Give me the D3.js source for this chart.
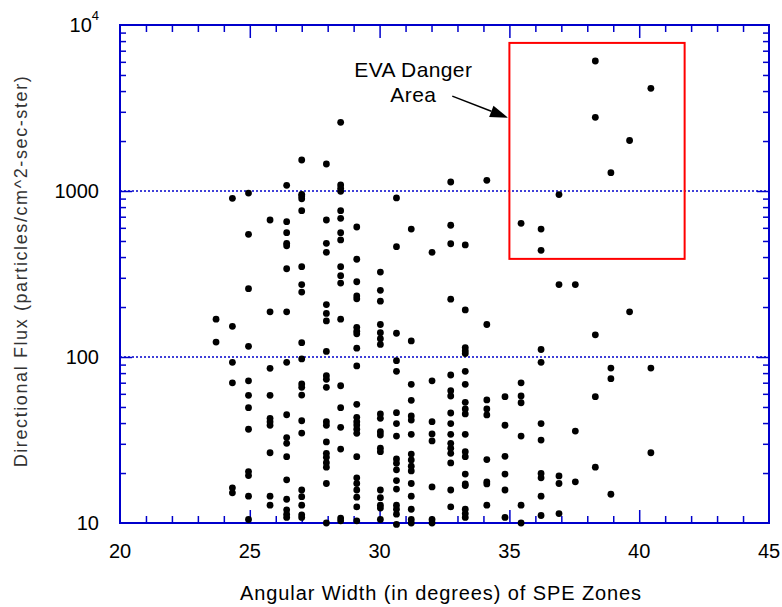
<!DOCTYPE html>
<html>
<head>
<meta charset="utf-8">
<script src="https://cdn.jsdelivr.net/npm/d3@7"></script>
<style>
  body { margin: 0; background: #fff; }
  svg { display: block; font-family: "Liberation Sans", Arial, sans-serif; }
</style>
</head>
<body>
<svg id="chart" width="782" height="607"></svg>
<script>
// angular width of each SPE zone column (degrees)
const zoneWidths = [23.70, 24.33, 24.95, 25.78, 26.42, 27.00, 27.95, 28.50, 29.12, 30.03, 30.65,
  31.22, 32.02, 32.74, 33.30, 34.13, 34.83, 35.45, 36.22, 36.91, 37.54, 38.31, 38.91, 39.63, 40.45];

// directional flux values for each column (particles/cm^2-sec-ster)
const fluxValues = [
  [169, 123],
  [904, 153, 92.9, 69.9, 16.3, 15.2],
  [972, 548, 258, 116, 71.9, 58.8, 49.5, 36.7, 20.4, 19.3, 14.5, 10.5],
  [669, 187, 85.5, 58.8, 42.7, 40.8, 38.8, 26.5, 14.5, 12.8],
  [1082, 653, 561, 484, 468, 340, 187, 92.9, 44.9, 32.7, 30.2, 25.1, 18.2, 13.9, 12.0, 11.3, 10.8],
  [1537, 955, 933, 898, 761, 350, 273, 246, 122, 97.3, 68.8, 65.7, 59.0, 41.3, 34.8, 15.8, 14.4, 12.8, 11.2, 10.8],
  [1454, 669, 484, 427, 207, 183, 165, 108, 77.2, 73.4, 65.7, 40.8, 38.8, 30.8, 26.3, 24.9, 23.1, 21.7, 17.3, 10.0],
  [2594, 1087, 1038, 996, 761, 685, 561, 507, 350, 309, 279, 169, 67.1, 49.5, 37.7, 27.9, 10.7, 10.3],
  [607, 388, 284, 233, 224, 151, 143, 138, 113, 88.3, 51.9, 43.3, 40.8, 38.9, 36.7, 34.7, 25.1, 18.7, 17.3, 15.8, 14.3, 12.5, 10.3],
  [325, 252, 217, 157, 140, 129, 119, 45.4, 42.7, 35.5, 33.9, 28.2, 26.9, 15.8, 14.2, 12.8, 12.3, 10.5],
  [908, 462, 139, 95.0, 82.0, 46.2, 39.7, 33.4, 24.3, 22.9, 20.9, 18.0, 16.0, 12.8, 12.1, 11.3, 9.8],
  [590, 125, 68.5, 54.8, 44.1, 41.7, 34.2, 26.0, 24.0, 22.0, 20.6, 17.3, 14.5, 12.1, 10.5, 10.0],
  [427, 71.9, 40.8, 34.4, 31.2, 16.5, 10.5, 10.0],
  [1133, 622, 481, 223, 77.9, 62.7, 58.2, 46.0, 39.7, 34.2, 30.2, 28.2, 26.3, 23.0, 15.8, 12.5],
  [473, 192, 114, 109, 105, 82.0, 68.5, 53.3, 48.6, 45.4, 34.2, 26.9, 25.1, 19.7, 17.2, 16.8, 12.1, 11.4, 10.8],
  [1160, 157, 55.1, 48.6, 44.8, 24.1, 17.7, 17.2, 12.8],
  [57.7, 38.8, 25.2, 19.7, 15.8, 10.8],
  [639, 69.9, 58.2, 53.0, 33.4, 12.8, 10.0],
  [590, 439, 111, 92.9, 39.7, 31.6, 19.9, 18.7, 14.5, 11.1],
  [952, 273, 19.2, 17.3, 11.4],
  [273, 35.8, 17.7],
  [6068, 2780, 136, 57.7, 21.7],
  [1289, 85.8, 74.0, 14.9],
  [2015, 187],
  [4157, 85.8, 26.5]
];

const xTicks = [20, 25, 30, 35, 40, 45];
const yTicks = [10, 100, 1000];
const gridLevels = [100, 1000];

// EVA danger area box (degrees / flux)
const dangerX = [35, 41.75];
const dangerY = [390, 7800];

const blue = "#0000cc";
const plotL = 120, plotR = 769, plotT = 25, plotB = 523;

const svg = d3.select("#chart");

const x = d3.scaleLinear().domain([20, 45]).range([plotL, plotR]);
const y = d3.scaleLog().domain([10, 10000]).range([plotB, plotT]);

const points = zoneWidths.flatMap((w, i) => fluxValues[i].map(f => ({ w, f })));

// dotted reference lines
svg.selectAll("line.grid")
  .data(gridLevels)
  .join("line")
  .attr("class", "grid")
  .attr("x1", plotL).attr("x2", plotR)
  .attr("y1", d => y(d)).attr("y2", d => y(d))
  .attr("stroke", blue)
  .attr("stroke-width", 1.5)
  .attr("stroke-dasharray", "2,2");

// ticks: minor and major, on all four sides pointing inward
const minorX = d3.range(21, 45).filter(v => v % 5 !== 0);
const majorX = d3.range(25, 45, 5);
const logTicks = y.ticks();
const minorY = logTicks.filter(v => !yTicks.includes(v) && v < 10000 && v > 10);

function tickAxis(axis, transform) {
  const g = svg.append("g").attr("transform", transform).call(axis);
  g.select(".domain").remove();
  g.selectAll("text").remove();
  g.selectAll("line").attr("stroke", blue).attr("stroke-width", 1.5);
  return g;
}

tickAxis(d3.axisBottom(x).tickValues(minorX).tickSize(-7), `translate(0,${plotB})`);
tickAxis(d3.axisBottom(x).tickValues(majorX).tickSize(-13), `translate(0,${plotB})`);
tickAxis(d3.axisTop(x).tickValues(minorX).tickSize(-7), `translate(0,${plotT})`);
tickAxis(d3.axisTop(x).tickValues(majorX).tickSize(-13), `translate(0,${plotT})`);
tickAxis(d3.axisLeft(y).tickValues(minorY).tickSize(-6), `translate(${plotL},0)`);
tickAxis(d3.axisLeft(y).tickValues([100, 1000]).tickSize(-12), `translate(${plotL},0)`);
tickAxis(d3.axisRight(y).tickValues(minorY).tickSize(-6), `translate(${plotR},0)`);
tickAxis(d3.axisRight(y).tickValues([100, 1000]).tickSize(-12), `translate(${plotR},0)`);

// frame
svg.append("rect")
  .attr("x", plotL).attr("y", plotT)
  .attr("width", plotR - plotL).attr("height", plotB - plotT)
  .attr("fill", "none")
  .attr("stroke", blue)
  .attr("stroke-width", 2);

// tick labels
svg.selectAll("text.xlab")
  .data(xTicks)
  .join("text")
  .attr("class", "xlab")
  .attr("x", d => x(d))
  .attr("y", plotB + 35)
  .attr("text-anchor", "middle")
  .attr("font-size", 20)
  .text(d => d);

svg.selectAll("text.ylab")
  .data(yTicks)
  .join("text")
  .attr("class", "ylab")
  .attr("x", plotL - 21)
  .attr("y", d => y(d) + 7)
  .attr("text-anchor", "end")
  .attr("font-size", 20)
  .text(d => d);

const pow = svg.append("text")
  .attr("x", plotL - 21)
  .attr("y", y(10000) + 7)
  .attr("text-anchor", "end")
  .attr("font-size", 20);
pow.append("tspan").text("10");
pow.append("tspan").attr("dy", -12).attr("font-size", 13).text("4");

// axis titles
svg.append("text")
  .attr("x", 441)
  .attr("y", 600)
  .attr("text-anchor", "middle")
  .attr("font-size", 20)
  .attr("letter-spacing", 0.9)
  .text("Angular Width (in degrees) of SPE Zones");

svg.append("text")
  .attr("transform", `translate(27,${(plotT + plotB) / 2 - 3}) rotate(-90)`)
  .attr("text-anchor", "middle")
  .attr("font-size", 18)
  .attr("letter-spacing", 1.6)
  .attr("fill", "#333")
  .text("Directional Flux (particles/cm^2-sec-ster)");

// danger area
svg.append("rect")
  .attr("x", x(dangerX[0]))
  .attr("y", y(dangerY[1]))
  .attr("width", x(dangerX[1]) - x(dangerX[0]))
  .attr("height", y(dangerY[0]) - y(dangerY[1]))
  .attr("fill", "none")
  .attr("stroke", "#ff0000")
  .attr("stroke-width", 2);

const note = svg.append("text")
  .attr("text-anchor", "middle")
  .attr("font-size", 21)
  .attr("letter-spacing", 0.4);
note.append("tspan").attr("x", x(31.3)).attr("y", y(4860)).text("EVA Danger");
note.append("tspan").attr("x", x(31.3)).attr("y", y(3440)).text("Area");

// arrow into the box
const a0 = [x(32.8), y(3730)], a1 = [x(34.95), y(2760)];
const ang = Math.atan2(a1[1] - a0[1], a1[0] - a0[0]);
const headLen = 18, headW = 6;
const base = [a1[0] - headLen * Math.cos(ang), a1[1] - headLen * Math.sin(ang)];
svg.append("line")
  .attr("x1", a0[0]).attr("y1", a0[1])
  .attr("x2", base[0]).attr("y2", base[1])
  .attr("stroke", "#000")
  .attr("stroke-width", 1.5);
svg.append("path")
  .attr("d", d3.line()([
    a1,
    [base[0] + headW * Math.sin(ang), base[1] - headW * Math.cos(ang)],
    [base[0] - headW * Math.sin(ang), base[1] + headW * Math.cos(ang)]
  ]) + "Z")
  .attr("fill", "#000");

// data points
svg.selectAll("circle.pt")
  .data(points)
  .join("circle")
  .attr("class", "pt")
  .attr("cx", d => x(d.w))
  .attr("cy", d => y(d.f))
  .attr("r", 3.4)
  .attr("fill", "#000");
</script>
</body>
</html>
